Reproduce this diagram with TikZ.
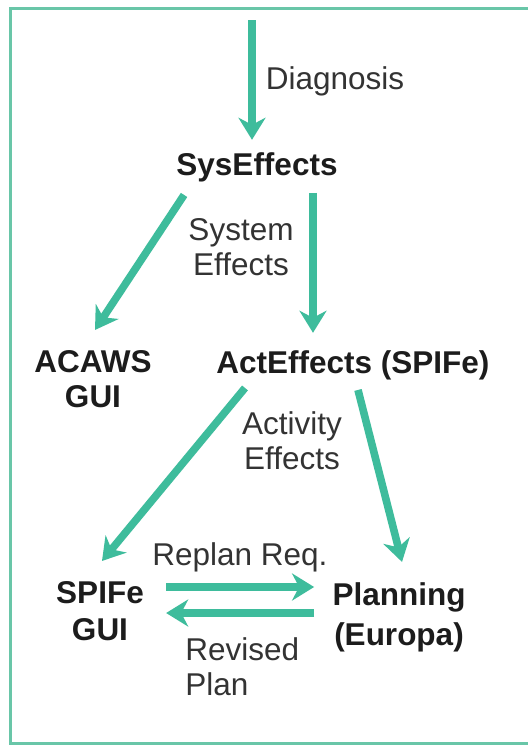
\documentclass[tikz,border=0pt]{standalone}
\usepackage{fontspec}
\setmainfont{Liberation Sans}
\usetikzlibrary{arrows.meta}
\definecolor{arrteal}{RGB}{62,188,156}
\definecolor{frameteal}{RGB}{105,198,168}
\definecolor{txtdark}{RGB}{28,28,28}
\begin{document}
\begin{tikzpicture}[x=0.5pt,y=-0.5pt,
  arr/.style={draw=arrteal, line width=3.8pt, -{Stealth[length=11pt,width=13.5pt,inset=3.5pt]}},
  lab/.style={inner sep=0pt, text=txtdark!90, font=\fontsize{15.75pt}{17.5pt}\selectfont, align=center},
  box/.style={inner sep=0pt, text=txtdark, font=\bfseries\fontsize{15.75pt}{17.5pt}\selectfont, align=center}]
\useasboundingbox (0,0) rectangle (528,746);
\fill[white] (0,0) rectangle (528,746);
\draw[frameteal, line width=1.5pt] (528,8) -- (10,8) -- (10,743) -- (528,743);

% main nodes
\node[box, anchor=base] (sys) at (257,175) {SysEffects};
\node[box] (acaws) at (93,379) {ACAWS\\GUI};
\node[box, anchor=base] (act) at (353,373) {ActEffects (SPIFe)};
\node[box, font=\bfseries\fontsize{15.75pt}{18.5pt}\selectfont] (sgui) at (100,611) {SPIFe\\GUI};
\node[box, font=\bfseries\fontsize{15.75pt}{20pt}\selectfont] (plan) at (399,617) {Planning\\(Europa)};

% labels
\node[lab, anchor=base] (ldiag) at (335,89) {Diagnosis};
\node[lab] (lsys) at (241,247) {System\\Effects};
\node[lab] (lact) at (292,441) {Activity\\Effects};
\node[lab, anchor=base] (lrep) at (240,565) {Replan Req.};
\node[lab, align=left, anchor=west] (lrev) at (185,667) {Revised\\Plan};

% connectors
\coordinate (top) at (252,20);
\draw[arr] (top) -- ([shift={(-5,-12)}]sys.north);
\draw[arr] ([shift={(8,13)}]sys.south west) -- ([shift={(2,-20)}]acaws.north);
\draw[arr] ([shift={(56,11)}]sys.south) -- ([shift={(-40,-17)}]act.north);
\draw[arr] ([shift={(-108,8)}]act.south) -- ([shift={(2,-20)}]sgui.north);
\draw[arr] ([shift={(5,10)}]act.south) -- ([shift={(3,-20)}]plan.north);
\draw[arr] ([shift={(22,-24)}]sgui.east) -- ([shift={(-18,-30)}]plan.west);
\draw[arr] ([shift={(-18,-4)}]plan.west) -- ([shift={(22,2)}]sgui.east);
\end{tikzpicture}
\end{document}
